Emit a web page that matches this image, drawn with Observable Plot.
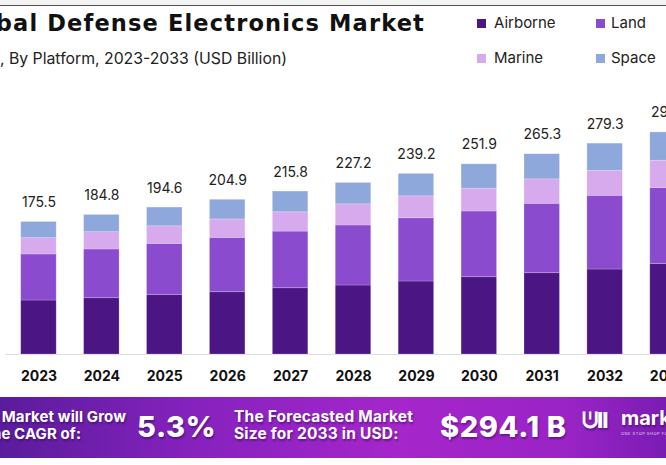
<!DOCTYPE html>
<html>
<head>
<meta charset="utf-8">
<script src="https://cdn.jsdelivr.net/npm/d3@7"></script>
<script src="https://cdn.jsdelivr.net/npm/@observablehq/plot@0.6"></script>
<style>
  html, body { margin: 0; padding: 0; }
  body { width: 666px; height: 465px; overflow: hidden; position: relative; background: #fff; font-family: Inter, "Noto Sans", sans-serif; }
  .abs { position: absolute; white-space: nowrap; }
  #topband { left: 0; top: 0; width: 666px; height: 5px; background: #f2f4f4; border-bottom: 1px solid #5b4d4f; }
  #title { right: 241px; top: 9px; font-family: "DejaVu Sans", Inter, sans-serif; font-size: 22.5px; line-height: 28px; font-weight: 700; color: #111; letter-spacing: 1.15px; text-align: right; }
  #subtitle { right: 379px; top: 49px; font-size: 15.8px; font-weight: 400; color: #222; text-align: right; }
  .leg { font-size: 15px; color: #222; line-height: 18px; }
  .sw { position: absolute; width: 9px; height: 9px; }
  #chart { position: absolute; left: 0; top: 80px; }
  #banner { left: 0; top: 397px; width: 666px; height: 61px;
    background: linear-gradient(90deg, #5a1c9c 0%, #8722bf 30%, #a526cb 60%, #9a24c6 85%, #7a1cb3 100%); }
  .bt { color: #fff; font-weight: 700; text-shadow: 1px 2px 2px rgba(40,0,70,0.45); }
  .small { font-size: 15px; line-height: 15px; letter-spacing: 0.1px; }
  .big { font-size: 29px; font-weight: 800; letter-spacing: 0.6px; }
</style>
</head>
<body>
<div id="topband" class="abs"></div>
<div id="title" class="abs">Global Defense Electronics Market</div>
<div id="subtitle" class="abs">Market Size, By Platform, 2023-2033 (USD Billion)</div>
<div id="legend"></div>
<div id="chart"></div>
<div id="banner" class="abs"></div>
<div class="abs bt small" style="right:540px; top:409px;">The Market will Grow</div>
<div class="abs bt small" style="right:585px; top:426px;">At the CAGR of:</div>
<div class="abs bt big" style="left:137px; top:409px;">5.3%</div>
<div class="abs bt small" style="left:234px; top:409px; font-size:15.5px; line-height:15.5px; letter-spacing:0.2px;">The Forecasted Market</div>
<div class="abs bt small" style="left:234px; top:426px; font-size:15.5px; line-height:15.5px; letter-spacing:0.2px;">Size for 2033 in USD:</div>
<div class="abs bt big" style="left:440px; top:409px;">$294.1 B</div>
<div class="abs bt" style="left:582px; top:407px; font-size:22px; font-weight:800; letter-spacing:-1px;">ᕫll</div>
<div class="abs bt" style="left:621px; top:406px; font-size:20px; font-weight:700;">market.us</div>
<div class="abs" style="left:621px; top:431px; font-size:4px; color:#e8d8f4; letter-spacing:0.5px;">ONE STOP SHOP FOR THE REPORTS</div>
<script>
const years = ["2023","2024","2025","2026","2027","2028","2029","2030","2031","2032","2033"];
const airborne = [71.5, 74.6, 79.0, 82.5, 87.8, 91.4, 96.7, 102.4, 107.7, 112.6, 120.0];
const land     = [61.0, 64.5, 67.5, 72.0, 75.0, 79.5, 83.8, 87.0, 91.9, 97.6, 100.5];
const marine   = [21.6, 22.9, 23.3, 24.4, 25.6, 28.0, 29.0, 30.2, 32.4, 33.0, 36.1];
const space    = [21.4, 22.8, 24.8, 26.0, 27.4, 28.3, 29.7, 32.3, 33.3, 36.1, 37.5];
const totals   = [175.5, 184.8, 194.6, 204.9, 215.8, 227.2, 239.2, 251.9, 265.3, 279.3, 294.1];
const segments = ["Airborne", "Land", "Marine", "Space"];
const colors   = ["#4b1684", "#8a4bcf", "#d7a9ed", "#8fa8dc"];

const series = [airborne, land, marine, space];
const rows = [];
years.forEach((yr, i) => segments.forEach((s, j) => rows.push({year: yr, segment: s, value: series[j][i]})));
const totalRows = years.map((yr, i) => ({year: yr, total: totals[i]}));

// legend
const legend = document.getElementById("legend");
const legPos = [[477, 494, 14], [596, 611, 14], [477, 494, 49], [596, 611, 49]];
segments.forEach((s, j) => {
  const [sx, tx, ty] = legPos[j];
  const sw = document.createElement("div");
  sw.className = "sw"; sw.style.left = sx + "px"; sw.style.top = (ty + 5) + "px"; sw.style.background = colors[j];
  legend.appendChild(sw);
  const t = document.createElement("div");
  t.className = "abs leg"; t.style.left = tx + "px"; t.style.top = ty + "px"; t.textContent = s;
  legend.appendChild(t);
});

const chart = Plot.plot({
  width: 700,
  height: 310,
  marginTop: 47.5,
  marginBottom: 36,
  marginLeft: 5,
  marginRight: 0,
  style: {fontFamily: "Inter, 'Noto Sans', sans-serif", background: "transparent", maxWidth: "none", overflow: "visible"},
  x: {type: "band", domain: years, range: [7, 699], paddingInner: 0.436, paddingOuter: 0.218, round: false, label: null},
  y: {domain: [0, 300], axis: null},
  color: {domain: segments, range: colors},
  marks: [
    Plot.ruleY([0], {stroke: "#dedde3", strokeWidth: 1}),
    Plot.barY(rows, {x: "year", y: "value", fill: "segment", stroke: "#ffffff", strokeOpacity: 0.25, strokeWidth: 0.8}),
    Plot.text(totalRows, {x: "year", y: "total", text: d => d.total.toFixed(1), dy: -19.5, fontSize: 14, fill: "#222"}),
    Plot.axisX({tickSize: 0, tickPadding: 17, fontSize: 14, fontWeight: "bold", color: "#111", label: null})
  ]
});
document.getElementById("chart").appendChild(chart);
</script>
</body>
</html>
